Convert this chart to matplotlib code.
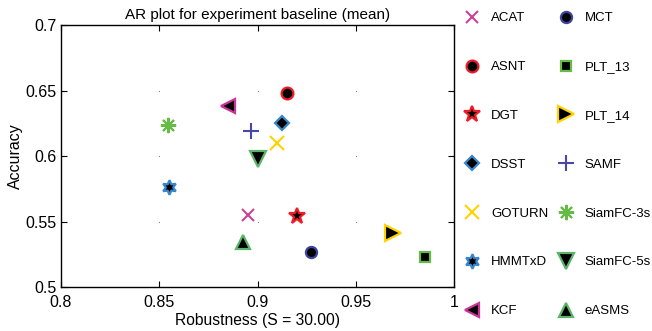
import numpy as np
import matplotlib
matplotlib.use("Agg")
import matplotlib.pyplot as plt

plt.rcParams['font.family'] = ['Liberation Sans', 'DejaVu Sans']

trackers = ['ACAT', 'ASNT', 'DGT', 'DSST', 'GOTURN', 'HMMTxD', 'KCF',
            'MCT', 'PLT_13', 'PLT_14', 'SAMF', 'SiamFC-3s', 'SiamFC-5s', 'eASMS']
robustness = [0.895, 0.915, 0.920, 0.9125, 0.910, 0.855, 0.885,
              0.927, 0.9853, 0.9688, 0.8967, 0.8543, 0.9004, 0.8925]
accuracy = [0.555, 0.648, 0.554, 0.625, 0.610, 0.576, 0.638,
            0.527, 0.523, 0.541, 0.619, 0.624, 0.598, 0.534]

colors = ['#cc4499', '#ee1c24', '#ee1c24', '#3a86cc', '#ffd200', '#3a86cc', '#cc3399',
          '#3c449c', '#66bb44', '#ffd200', '#4848a8', '#66bb44', '#5ab56a', '#5ab56a']
markers = ['x', 'o', '*', 'D', 'x', (6, 1, 0), '<',
           'o', 's', '>', '+', (8, 2, 0), 'v', '^']
sizes = [8.5, 8.5, 12, 7.5, 9.5, 10.5, 10.5, 8, 6.5, 11, 11.5, 11, 12, 10]

xticks = [0.8, 0.85, 0.9, 0.95, 1.0]
xticklabels = ['0.8', '0.85', '0.9', '0.95', '1']
yticks = [0.5, 0.55, 0.6, 0.65, 0.7]
yticklabels = ['0.5', '0.55', '0.6', '0.65', '0.7']

fig = plt.figure(figsize=(6.52, 3.31), dpi=100)
ax = fig.add_axes([0.0936, 0.1329, 0.6028, 0.7915])

# MATLAB-style dotted grid only shows up as dots at the tick crossings
gx, gy = np.meshgrid(xticks[1:-1], yticks[1:-1])
ax.plot(gx.ravel(), gy.ravel(), linestyle='none', marker='s', ms=0.8,
        color='#888888', mew=0)

line_markers = ('x', '+', (8, 2, 0))
for name, x, y, c, m, s in zip(trackers, robustness, accuracy, colors, markers, sizes):
    if m in line_markers:
        ax.plot(x, y, linestyle='none', marker=m, ms=s, color=c, mew=1.5, label=name)
    else:
        ax.plot(x, y, linestyle='none', marker=m, ms=s, mfc='black', mec=c,
                mew=1.6, label=name)

ax.set_xlim(0.8, 1.0)
ax.set_ylim(0.5, 0.7)
ax.set_xticks(xticks)
ax.set_xticklabels(xticklabels)
ax.set_yticks(yticks)
ax.set_yticklabels(yticklabels)
ax.tick_params(direction='in', top=True, right=True, labelsize=11.5, length=4)
ax.tick_params(axis='x', pad=6)
ax.tick_params(axis='y', pad=3)
for sp in ax.spines.values():
    sp.set_linewidth(1.0)

ax.set_title('AR plot for experiment baseline (mean)', fontsize=11, pad=4)
ax.set_xlabel('Robustness (S = 30.00)', fontsize=11.25, labelpad=2)
ax.set_ylabel('Accuracy', fontsize=11.5, labelpad=2)

ax.legend(loc='upper left', bbox_to_anchor=(0.701, 0.979), bbox_transform=fig.transFigure,
          ncol=2, frameon=False, fontsize=9.5, labelspacing=2.77, columnspacing=0.53,
          handletextpad=0.68, handlelength=1.52, borderaxespad=0)

fig.savefig('out.png', dpi=100)
